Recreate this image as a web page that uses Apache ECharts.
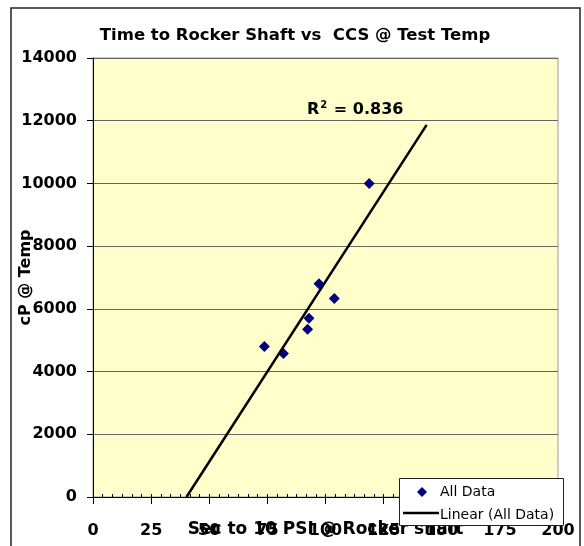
<!DOCTYPE html>
<html><head><meta charset="utf-8">
<script src="https://cdn.jsdelivr.net/npm/echarts@6/dist/echarts.min.js"></script>
<style>html,body{margin:0;padding:0;background:#fff}#c{width:584px;height:546px}</style>
</head><body><div id="c"></div>
<script>
// ---- data ----
const timeSec = [118.8, 97.2, 103.8, 92.9, 92.3, 73.7, 81.9];   // Sec to 10 PSI @ Rocker shaft
const viscosityCp = [10000, 6800, 6330, 5700, 5350, 4800, 4580]; // cP @ Temp
const trendEndX = 143.5;   // trendline forecast end (x)
const r2Text = '0.836';
const xTickStep = 25;
const yTickStep = 2000;

// ---- linear regression (trendline of the data) ----
function linReg(xs, ys) {
  const n = xs.length;
  const mx = xs.reduce((a, b) => a + b, 0) / n;
  const my = ys.reduce((a, b) => a + b, 0) / n;
  let sxy = 0, sxx = 0;
  for (let i = 0; i < n; i++) { sxy += (xs[i] - mx) * (ys[i] - my); sxx += (xs[i] - mx) ** 2; }
  const m = sxy / sxx;
  return { m, b: my - m * mx };
}
const fit = linReg(timeSec, viscosityCp);
const trendStartX = -fit.b / fit.m;
const trendData = [trendStartX, trendEndX].map(x => [x, fit.m * x + fit.b]);
const scatterData = timeSec.map((x, i) => [x, viscosityCp[i]]);

const FONT = 'DejaVu Sans';
const plain = v => String(v);
const chart = echarts.init(document.getElementById('c'), null, { renderer: 'canvas' });
const option = {
  animation: false,
  backgroundColor: '#ffffff',
  grid: { left: 93, right: 26, top: 58, bottom: 49, containLabel: false, outerBoundsMode: 'none',
          show: true, backgroundColor: '#FFFFCC', borderColor: '#999999', borderWidth: 1 },
  xAxis: [{
    type: 'value', min: 0, max: 200, interval: xTickStep,
    axisLine: { show: true, onZero: false, lineStyle: { color: '#000', width: 1 } },
    axisTick: { show: true, length: 7, lineStyle: { color: '#000', width: 1 } },
    axisLabel: { margin: 26, fontFamily: FONT, fontWeight: 'bold', fontSize: 16, color: '#000', formatter: plain, hideOverlap: false },
    splitLine: { show: false },
    name: 'Sec to 10 PSI @ Rocker shaft', nameLocation: 'middle', nameGap: 24, nameMoveOverlap: false,
    nameTextStyle: { fontFamily: FONT, fontWeight: 'bold', fontSize: 17, color: '#000' }
  }, {
    type: 'value', min: 0, max: 200, interval: xTickStep / 6, position: 'bottom', offset: 0,
    axisLine: { show: false },
    axisTick: { show: true, inside: true, length: 3, lineStyle: { color: '#000', width: 1 } },
    axisLabel: { show: false }, splitLine: { show: false }
  }],
  yAxis: {
    type: 'value', min: 0, max: 14000, interval: yTickStep,
    axisLine: { show: true, onZero: false, lineStyle: { color: '#000', width: 1 } },
    axisTick: { show: true, length: 6, lineStyle: { color: '#000', width: 1 } },
    axisLabel: { margin: 16, fontFamily: FONT, fontWeight: 'bold', fontSize: 16, color: '#000', formatter: plain },
    splitLine: { show: true, lineStyle: { color: '#666666', width: 1 } },
    name: 'cP @ Temp', nameLocation: 'middle', nameGap: 59, nameMoveOverlap: false,
    nameTextStyle: { fontFamily: FONT, fontWeight: 'bold', fontSize: 16, color: '#000' }
  },
  series: [{
    name: 'All Data', type: 'scatter', data: scatterData,
    symbol: 'diamond', symbolSize: 11, itemStyle: { color: '#000080', opacity: 1 }
  }, {
    name: 'Linear (All Data)', type: 'line', data: trendData,
    showSymbol: false, symbol: 'none', lineStyle: { color: '#000', width: 2.5 }, clip: true
  }],
  graphic: [
    { type: 'rect', shape: { x: 11, y: 8, width: 569, height: 560 }, style: { fill: 'none', stroke: '#222', lineWidth: 1.5 }, silent: true, z: 100 },
    { type: 'text', x: 295, y: 36, z: 100, style: { text: 'Time to Rocker Shaft vs  CCS @ Test Temp', font: 'bold 16.5px "DejaVu Sans"', fill: '#000', textAlign: 'center', textVerticalAlign: 'middle' } },
    { type: 'text', x: 307, y: 110, z: 100, style: { text: '{a|R}{s|2}{a| = ' + r2Text + '}', textAlign: 'left', textVerticalAlign: 'middle',
        rich: { a: { fontFamily: FONT, fontWeight: 'bold', fontSize: 16, color: '#000' },
                s: { fontFamily: FONT, fontWeight: 'bold', fontSize: 10, color: '#000', padding: [0, 1, 9, 1] } } } },
    { type: 'rect', z: 110, shape: { x: 399.5, y: 478.5, width: 164, height: 47 }, style: { fill: '#fff', stroke: '#222', lineWidth: 1 } },
    { type: 'polygon', z: 111, shape: { points: [[422, 487], [427, 492], [422, 497], [417, 492]] }, style: { fill: '#000080' } },
    { type: 'text', z: 111, x: 440, y: 492, style: { text: 'All Data', font: '14px "DejaVu Sans"', fill: '#000', textVerticalAlign: 'middle' } },
    { type: 'line', z: 111, shape: { x1: 403, y1: 513, x2: 439, y2: 513 }, style: { stroke: '#000', lineWidth: 2.5 } },
    { type: 'text', z: 111, x: 440, y: 515, style: { text: 'Linear (All Data)', font: '14px "DejaVu Sans"', fill: '#000', textVerticalAlign: 'middle' } }
  ]
};
chart.setOption(option);
</script>
</body></html>
